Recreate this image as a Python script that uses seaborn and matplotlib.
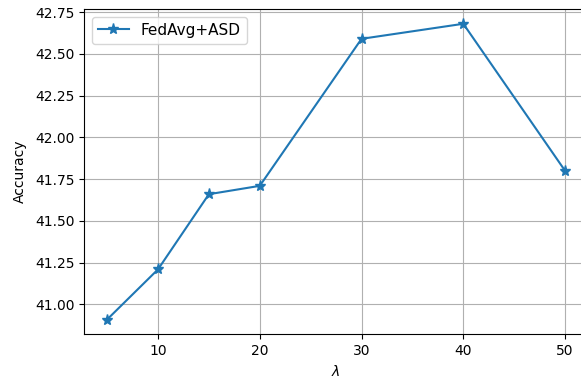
import matplotlib
matplotlib.use("Agg")
import matplotlib.pyplot as plt
import seaborn as sns
import pandas as pd

lambdas = [5, 10, 15, 20, 30, 40, 50]
accuracy = [40.91, 41.21, 41.66, 41.71, 42.59, 42.68, 41.80]
series_name = "FedAvg+ASD"

df = pd.DataFrame({"lambda": lambdas, "acc": accuracy, "method": series_name})

plt.rcParams["font.family"] = ["DejaVu Sans"]
plt.rcParams["font.size"] = 10

color = "#1f77b4"
fig = plt.figure(figsize=(5.81, 3.80), dpi=100)
ax = fig.add_axes([84.2 / 581, 1 - 334.3 / 380, (588 - 84.2) / 581, (334.3 - 9) / 380])

sns.lineplot(data=df, x="lambda", y="acc", hue="method", marker="*",
             markersize=8, markeredgewidth=1, markeredgecolor=color,
             palette=[color], linewidth=1.5, ax=ax)

ax.grid(True, color="#b0b0b0", linewidth=0.8)
ax.set_axisbelow(True)
ax.set_xlabel(r"$\lambda$")
ax.set_ylabel("Accuracy", labelpad=6)
ax.set_yticks([41.00, 41.25, 41.50, 41.75, 42.00, 42.25, 42.50, 42.75])
ax.yaxis.set_major_formatter(matplotlib.ticker.FormatStrFormatter("%.2f"))
ax.set_xticks([10, 20, 30, 40, 50])
ax.margins(x=0.05, y=0.05)
ax.legend(loc="upper left", title=None, fontsize=11)

fig.savefig("out.png", dpi=100)
